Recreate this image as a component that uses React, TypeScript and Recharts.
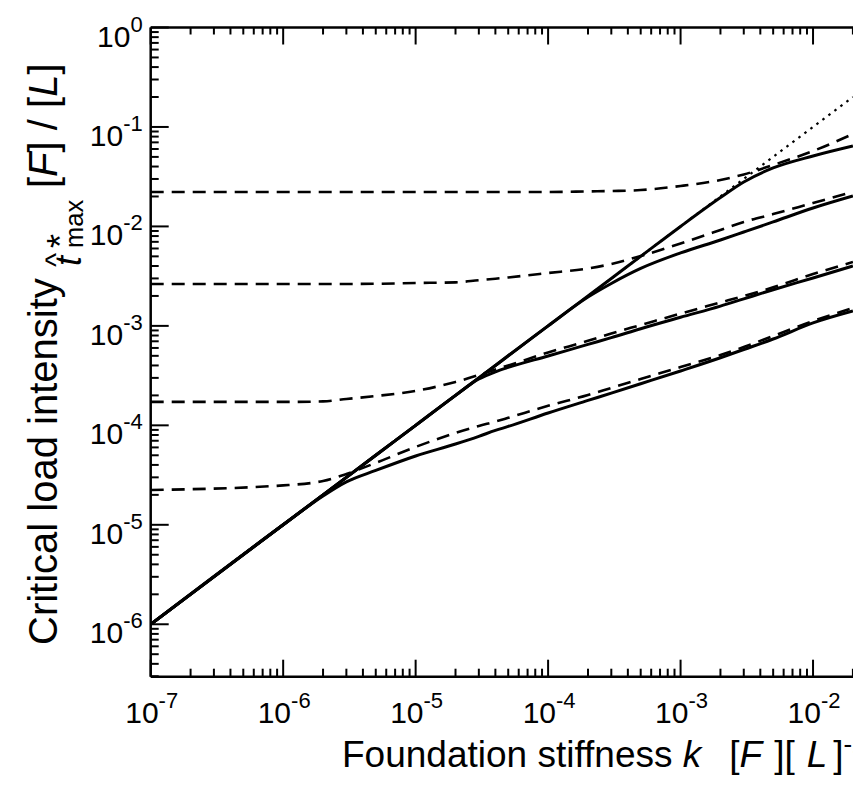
import React from "react";
import { LineChart, Line, XAxis, YAxis } from "recharts";

const FONT = '"Liberation Sans", Arial, Helvetica, sans-serif';

// axis decades and the minor-tick multipliers inside each decade
const X_DECADES = [-7, -6, -5, -4, -3, -2, -1];
const X_LABELED = [-7, -6, -5, -4, -3, -2];
const Y_DECADES = [-7, -6, -5, -4, -3, -2, -1, 0];
const MULTS = [1, 2, 3, 4, 5, 6, 7, 8, 9];
const X_DOMAIN: [number, number] = [1e-7, 1e-1];
const Y_DOMAIN: [number, number] = [2.97e-7, 1];

// foundation stiffness k where the curves were read
const K = [1e-7, 1e-6, 2e-6, 3e-6, 5e-6, 1e-5, 2e-5, 3e-5, 4e-5, 5e-5, 1e-4, 2e-4, 3e-4, 5e-4, 1e-3, 2e-3, 3e-3, 5e-3, 1e-2, 2e-2];

// solid curves (top to bottom)
const solid1 = [1e-6, 1e-5, 2e-5, 3e-5, 5e-5, 1e-4, 2e-4, 3e-4, 4e-4, 5e-4, 1e-3, 2e-3, 3e-3, 5e-3, 1e-2, 1.95e-2, 2.8e-2, 3.87e-2, 5.11e-2, 6.44e-2];
const solid2 = [1e-6, 1e-5, 2e-5, 3e-5, 5e-5, 1e-4, 2e-4, 3e-4, 4e-4, 5e-4, 1e-3, 1.95e-3, 2.67e-3, 3.78e-3, 5.41e-3, 7.31e-3, 8.79e-3, 1.11e-2, 1.53e-2, 2.02e-2];
const solid3 = [1e-6, 1e-5, 2e-5, 3e-5, 5e-5, 1e-4, 2e-4, 2.92e-4, 3.45e-4, 3.82e-4, 4.98e-4, 6.52e-4, 7.61e-4, 9.37e-4, 1.22e-3, 1.58e-3, 1.87e-3, 2.31e-3, 3.03e-3, 4.0e-3];
const solid4 = [1e-6, 1e-5, 1.95e-5, 2.7e-5, 3.52e-5, 4.92e-5, 6.5e-5, 7.76e-5, 8.89e-5, 9.75e-5, 1.33e-4, 1.78e-4, 2.11e-4, 2.62e-4, 3.52e-4, 4.78e-4, 5.79e-4, 7.38e-4, 1.07e-3, 1.41e-3];

// dashed curves (top to bottom)
const dashed1 = [2.22e-2, 2.22e-2, 2.22e-2, 2.22e-2, 2.22e-2, 2.22e-2, 2.22e-2, 2.22e-2, 2.22e-2, 2.22e-2, 2.22e-2, 2.25e-2, 2.27e-2, 2.32e-2, 2.55e-2, 2.93e-2, 3.33e-2, 4.15e-2, 5.73e-2, 8.49e-2];
const dashed2 = [2.64e-3, 2.64e-3, 2.64e-3, 2.64e-3, 2.65e-3, 2.7e-3, 2.74e-3, 2.88e-3, 2.98e-3, 3.07e-3, 3.4e-3, 3.78e-3, 4.19e-3, 5.04e-3, 6.73e-3, 9.21e-3, 1.11e-2, 1.33e-2, 1.72e-2, 2.22e-2];
const dashed3 = [1.72e-4, 1.72e-4, 1.74e-4, 1.84e-4, 1.97e-4, 2.22e-4, 2.73e-4, 3.21e-4, 3.65e-4, 4.0e-4, 5.41e-4, 7.08e-4, 8.39e-4, 1.02e-3, 1.33e-3, 1.72e-3, 2.0e-3, 2.44e-3, 3.32e-3, 4.39e-3];
const dashed4 = [2.24e-5, 2.49e-5, 2.76e-5, 3.24e-5, 4.19e-5, 6.07e-5, 8.38e-5, 9.86e-5, 1.09e-4, 1.19e-4, 1.57e-4, 2.02e-4, 2.38e-4, 2.92e-4, 3.86e-4, 5.09e-4, 6.13e-4, 7.91e-4, 1.12e-3, 1.51e-3];

// dotted reference line
const dottedK = [1e-7, 1e-4, 2e-2];
const dottedT = [1e-6, 1e-3, 2e-1];

const rows = (ks: number[], ts: number[]) => ks.map((k, i) => ({ k, t: ts[i] }));

const buildTicks = (decades: number[], [lo, hi]: [number, number]) =>
  decades
    .flatMap((e) => MULTS.map((m) => Number((m * Math.pow(10, e)).toPrecision(2))))
    .filter((v) => v >= lo * 0.999 && v <= hi * 1.001);

const xTicks = buildTicks(X_DECADES, X_DOMAIN);
const yTicks = buildTicks(Y_DECADES, Y_DOMAIN);

const decadeOf = (v: number) => Math.round(Math.log10(v));
const isMajor = (v: number) => Math.abs(Math.log10(v) - decadeOf(v)) < 1e-6;

function BottomTick(props: any) {
  const { x, y, payload } = props;
  const v = payload.value;
  const major = isMajor(v);
  return (
    <g>
      <line x1={x} y1={y} x2={x} y2={y - (major ? 17 : 8)} stroke="#000" strokeWidth={2} />
      {major && X_LABELED.includes(decadeOf(v)) && (
        <text x={x + 1} y={y + 46} textAnchor="middle" fontFamily={FONT} fontSize={30} fill="#000">
          10<tspan dy={-15} fontSize={22}>{String(decadeOf(v))}</tspan>
        </text>
      )}
    </g>
  );
}

function TopTick(props: any) {
  const { x, y, payload } = props;
  const major = isMajor(payload.value);
  return <line x1={x} y1={y} x2={x} y2={y + (major ? 17 : 7)} stroke="#000" strokeWidth={2} />;
}

function LeftTick(props: any) {
  const { x, y, payload } = props;
  const v = payload.value;
  const major = isMajor(v);
  return (
    <g>
      <line x1={x} y1={y} x2={x + (major ? 18 : 8)} y2={y} stroke="#000" strokeWidth={2} />
      {major && (
        <text x={x - 8} y={y + 19} textAnchor="end" fontFamily={FONT} fontSize={30} fill="#000">
          10<tspan dy={-15} fontSize={22}>{String(decadeOf(v))}</tspan>
        </text>
      )}
    </g>
  );
}

// the title runs past the right edge of the picture, as in the original
const XTitle = () => (
  <text x={342} y={767} fontFamily={FONT} fontSize={37} fill="#000">
    Foundation stiffness <tspan fontStyle="italic">k</tspan>
    <tspan dx={28}>[</tspan>
    <tspan fontStyle="italic">F</tspan>
    <tspan dx={12}>][</tspan>
    <tspan dx={12} fontStyle="italic">L</tspan>
    <tspan dx={6}>]</tspan>
    <tspan dy={-14} fontSize={26}>-2</tspan>
  </text>
);

const YTitle = () => (
  <g transform="translate(57 645) rotate(-90)" fontFamily={FONT} fill="#000">
    <text x={0} y={0} fontSize={40}>Critical load intensity</text>
    <text x={379} y={24} fontSize={36} fontStyle="italic">t</text>
    <text x={378} y={9} fontSize={30}>^</text>
    <text x={397} y={16} fontSize={36}>*</text>
    <text x={397} y={26} fontSize={25.5}>max</text>
    <text x={457} y={0} fontSize={40}>
      [<tspan fontStyle="italic">F</tspan>] / [<tspan fontStyle="italic">L</tspan>]
    </text>
  </g>
);

const AXIS_LINE = { stroke: "#000", strokeWidth: 2.5 };

export default function App() {
  const solids = [solid1, solid2, solid3, solid4];
  const dashes = [dashed1, dashed2, dashed3, dashed4];
  return (
    <div style={{ position: "absolute", left: 0, top: 0, width: 853, height: 790, overflow: "hidden", background: "#fff" }}>
      <LineChart width={1000} height={790} margin={{ top: 17.5, right: 54.5, bottom: 53.3, left: 90.7 }}>
        <XAxis
          dataKey="k"
          type="number"
          scale="log"
          domain={X_DOMAIN}
          allowDataOverflow
          ticks={xTicks}
          interval={0}
          tickSize={0}
          tickMargin={0}
          tickLine={false}
          tick={<BottomTick />}
          axisLine={AXIS_LINE}
          height={60}
          label={{ content: () => <XTitle /> }}
        />
        <XAxis
          xAxisId="top"
          orientation="top"
          dataKey="k"
          type="number"
          scale="log"
          domain={X_DOMAIN}
          allowDataOverflow
          ticks={xTicks}
          interval={0}
          tickSize={0}
          tickMargin={0}
          tickLine={false}
          tick={<TopTick />}
          axisLine={AXIS_LINE}
          height={10}
        />
        <YAxis
          type="number"
          scale="log"
          domain={Y_DOMAIN}
          allowDataOverflow
          ticks={yTicks}
          interval={0}
          tickSize={0}
          tickMargin={0}
          tickLine={false}
          tick={<LeftTick />}
          axisLine={AXIS_LINE}
          width={60}
          label={{ content: () => <YTitle /> }}
        />
        {dashes.map((d, i) => (
          <Line
            key={`d${i}`}
            data={rows(K, d)}
            dataKey="t"
            type="monotone"
            stroke="#000"
            strokeWidth={2.6}
            strokeDasharray="13 8"
            dot={false}
            activeDot={false}
            isAnimationActive={false}
          />
        ))}
        <Line
          data={rows(dottedK, dottedT)}
          dataKey="t"
          type="linear"
          stroke="#000"
          strokeWidth={2.2}
          strokeDasharray="2.5 5"
          dot={false}
          activeDot={false}
          isAnimationActive={false}
        />
        {solids.map((s, i) => (
          <Line
            key={`s${i}`}
            data={rows(K, s)}
            dataKey="t"
            type="monotone"
            stroke="#000"
            strokeWidth={3}
            dot={false}
            activeDot={false}
            isAnimationActive={false}
          />
        ))}
      </LineChart>
    </div>
  );
}
